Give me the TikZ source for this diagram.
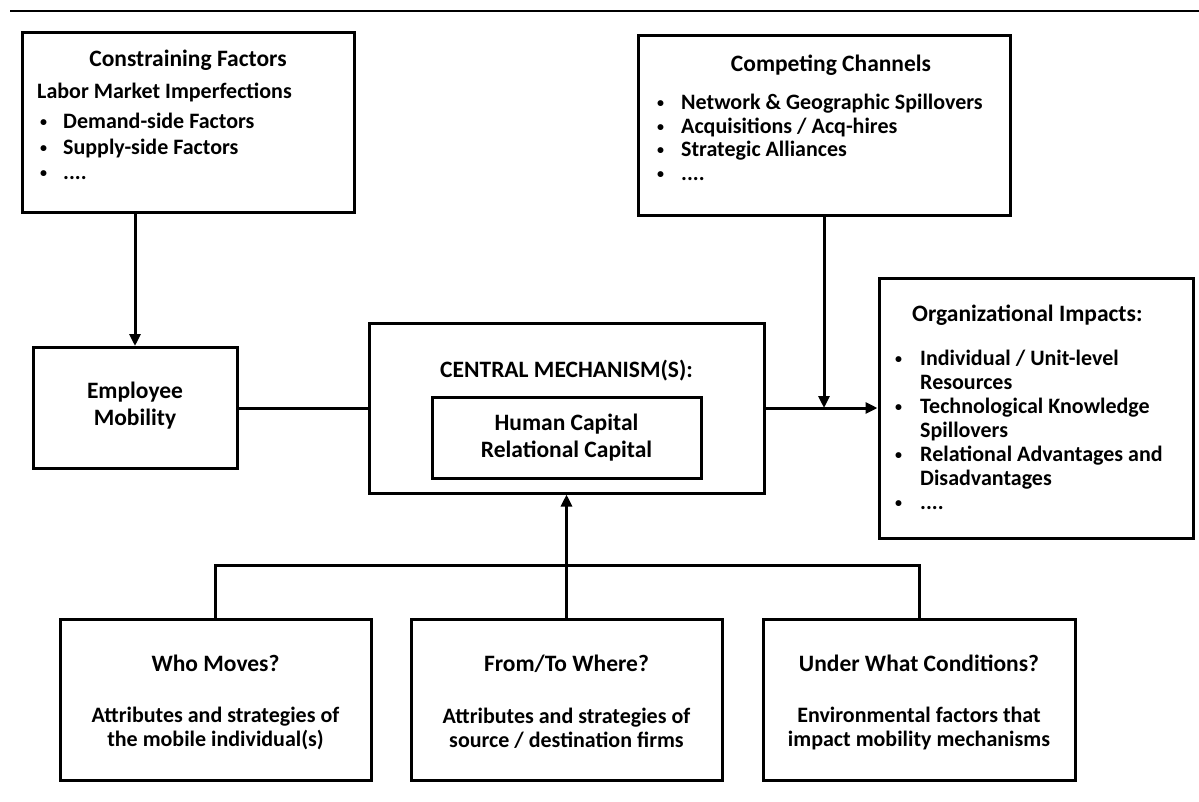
\documentclass[tikz,border=0pt]{standalone}
\usepackage{fontspec}
\setmainfont{Carlito}
\usetikzlibrary{arrows.meta}
\newcommand{\smbul}{\raisebox{1.5pt}{\fontsize{14}{14}\selectfont •}}
\begin{document}
\begin{tikzpicture}[x=1pt,y=-1pt,
  box/.style={draw, line width=3pt, rectangle, inner sep=0pt, line join=miter},
  txt/.style={font=\fontsize{22}{25}\selectfont\bfseries, inner sep=0pt, anchor=base west},
  ttl/.style={font=\fontsize{23.5}{26}\selectfont\bfseries, inner sep=0pt, anchor=base},
  ttlw/.style={font=\fontsize{23.5}{26}\selectfont\bfseries, inner sep=0pt, anchor=base west},
  ctxt/.style={font=\fontsize{22}{24}\selectfont\bfseries, inner sep=0pt, align=center},
  btxt/.style={font=\fontsize{23.5}{27}\selectfont\bfseries, inner sep=0pt, align=center},
  conn/.style={line width=3pt},
  arr/.style={conn, -{Triangle[length=12pt,width=11pt]}}]
\useasboundingbox (0,0) rectangle (1199,801);
% top rule
\coordinate (ruleL) at (10,11);
\coordinate (ruleR) at (1199,11);
\draw[line width=2pt] (ruleL) -- (ruleR);

% Constraining Factors
\node[box, minimum width=332pt, minimum height=180pt] (cf) at (188,122) {};
\node[ttl] (cft) at (188,66) {Constraining Factors};
\node[txt] (cfl) at (37,98) {Labor Market Imperfections};
\node[txt] (cfb1) at (40,128) {\smbul};
\node[txt] (cfi1) at (63,128) {Demand-side Factors};
\node[txt] (cfb2) at (40,154) {\smbul};
\node[txt] (cfi2) at (63,154) {Supply-side Factors};
\node[txt] (cfb3) at (40,179) {\smbul};
\node[txt] (cfi3) at (63,179) {....};

% Competing Channels
\node[box, minimum width=372pt, minimum height=180pt] (cc) at (824,125) {};
\node[ttl] (cct) at (831,71) {Competing Channels};
\node[txt] (ccb1) at (657,109) {\smbul};
\node[txt] (cci1) at (681,109) {Network \& Geographic Spillovers};
\node[txt] (ccb2) at (657,133) {\smbul};
\node[txt] (cci2) at (681,133) {Acquisitions / Acq-hires};
\node[txt] (ccb3) at (657,156) {\smbul};
\node[txt] (cci3) at (681,156) {Strategic Alliances};
\node[txt] (ccb4) at (657,180) {\smbul};
\node[txt] (cci4) at (681,180) {....};

% Employee Mobility
\node[box, minimum width=204pt, minimum height=121pt] (em) at (135,408) {};
\node[btxt] (emt) at (135,406) {Employee\\Mobility};

% Central mechanism
\node[box, minimum width=395pt, minimum height=170pt] (cm) at (566.5,408) {};
\node[ttl] (cmt) at (566.5,377) {CENTRAL MECHANISM(S):};
\node[box, minimum width=269pt, minimum height=81pt] (ci) at (566.5,437.5) {};
\node[btxt] (cit) at (566.5,438) {Human Capital\\Relational Capital};

% Organizational impacts
\node[box, minimum width=314pt, minimum height=260pt] (oi) at (1036,408) {};
\node[ttlw] (oit) at (912,321) {Organizational Impacts:};
\node[txt] (oib1) at (895,365) {\smbul};
\node[txt] (oii1) at (920,365) {Individual / Unit-level};
\node[txt] (oii1b) at (920,389) {Resources};
\node[txt] (oib2) at (895,413) {\smbul};
\node[txt] (oii2) at (920,413) {Technological Knowledge};
\node[txt] (oii2b) at (920,437) {Spillovers};
\node[txt] (oib3) at (895,461) {\smbul};
\node[txt] (oii3) at (920,461) {Relational Advantages and};
\node[txt] (oii3b) at (920,485) {Disadvantages};
\node[txt] (oib4) at (895,509) {\smbul};
\node[txt] (oii4) at (920,509) {....};

% Bottom boxes
\node[box, minimum width=311pt, minimum height=161pt] (wm) at (215.5,699.5) {};
\node[ttl] (wmt) at (215.5,671) {Who Moves?};
\node[ctxt] (wmd) at (215.5,728) {Attributes and strategies of\\the mobile individual(s)};

\node[box, minimum width=311pt, minimum height=161pt] (ft) at (566.5,699.5) {};
\node[ttl] (ftt) at (566.5,671) {From/To Where?};
\node[ctxt] (ftd) at (566.5,728) {Attributes and strategies of\\source / destination firms};

\node[box, minimum width=312pt, minimum height=161pt] (uw) at (919,699.5) {};
\node[ttl] (uwt) at (919,671) {Under What Conditions?};
\node[ctxt] (uwd) at (919,728) {Environmental factors that\\impact mobility mechanisms};

% connectors
\draw[arr] (cf.south -| em.north) -- (em.north);
\draw[conn] (em.east) -- (cm.west);
\draw[arr] (cm.east) -- (oi.west);
\draw[arr] (cc.south) -- (cc.south |- cm.east);
\coordinate (bus) at (566.5,565);
\draw[conn] (wm.north) |- (bus) -| (uw.north);
\draw[arr] (ft.north) -- (cm.south);
\end{tikzpicture}
\end{document}
